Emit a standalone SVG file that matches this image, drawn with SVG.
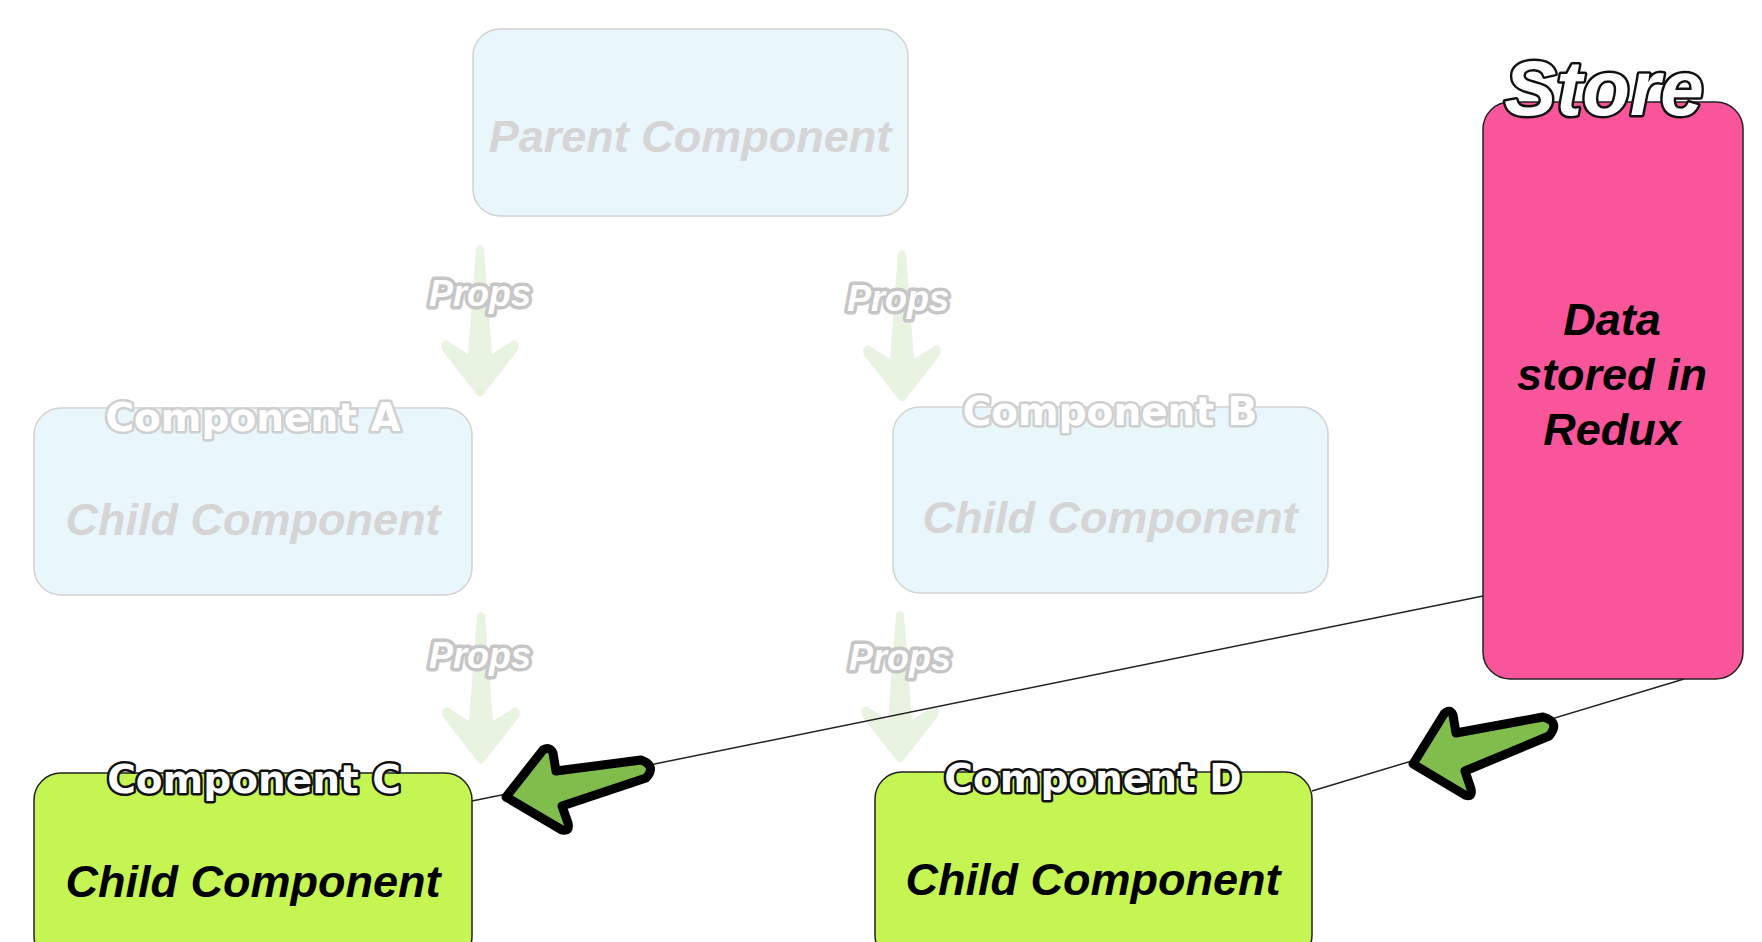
<svg xmlns="http://www.w3.org/2000/svg" width="1762" height="942" viewBox="0 0 1762 942">
<style>
.faded{fill:#E9F6FB;stroke:#d2d2d2;stroke-width:1.5}
.fadedtxt{font-family:"Liberation Sans",Arial,sans-serif;font-weight:bold;font-style:italic;font-size:45px;fill:#d5d5d5;text-anchor:middle}
.lime{fill:#C5F552;stroke:#222;stroke-width:1.5}
.darktxt{font-family:"Liberation Sans",Arial,sans-serif;font-weight:bold;font-style:italic;font-size:45px;fill:#000;text-anchor:middle}
.lblfade{font-family:"DejaVu Sans",sans-serif;font-weight:bold;font-size:39px;fill:#fff;stroke:#cfcfcf;stroke-width:5;paint-order:stroke;stroke-linejoin:round;text-anchor:middle}
.lbldark{font-family:"DejaVu Sans",sans-serif;font-weight:bold;font-size:39px;fill:#fff;stroke:#111;stroke-width:5;paint-order:stroke;stroke-linejoin:round;text-anchor:middle}
.props{font-family:"Liberation Sans",Arial,sans-serif;font-weight:bold;font-style:italic;font-size:36px;fill:#fff;stroke:#c6c6c6;stroke-width:7;paint-order:stroke;stroke-linejoin:round;text-anchor:middle}
.conn{stroke:#222;stroke-width:1.5;fill:none}
.garrow{fill:#80BD4C;stroke:#000;stroke-width:9;stroke-linejoin:round}
</style>
<defs>
<path id="propArrow" d="M -4,2 Q 0,-4 4,2 L 12,108 L 34,94 Q 41,96 38,104 L 3,149 Q 0,152 -3,149 L -38,104 Q -41,96 -34,94 L -12,108 Z" fill="#E8F4E1"/>
</defs>
<rect width="1762" height="942" fill="#fff"/>

<g id="connectors">
  <use href="#propArrow" transform="translate(480,246)"/>
  <use href="#propArrow" transform="translate(902,251)"/>
  <use href="#propArrow" transform="translate(481,613)"/>
  <use href="#propArrow" transform="translate(900,612)"/>
  <text class="props" x="480" y="306">Props</text>
  <text class="props" x="898" y="311">Props</text>
  <text class="props" x="480" y="668">Props</text>
  <text class="props" x="900" y="670">Props</text>
  <line class="conn" x1="1483" y1="596" x2="472" y2="801"/>
  <line class="conn" x1="1684" y1="679" x2="1312" y2="791"/>
  <path class="garrow" d="M 506,797 L 543,750 Q 550,746 553,753 L 556,771 L 641,760 Q 657,766 646,778 L 562,806 L 568,823 Q 570,832 562,830 Z"/>
  <path class="garrow" d="M 1413,764 L 1444,714 Q 1450,708 1453,715 L 1456,733 L 1543,717 Q 1561,722 1549,736 L 1465,771 L 1471,789 Q 1473,798 1465,795 Z"/>
</g>

<g id="parent">
  <rect class="faded" x="473" y="29" width="435" height="187" rx="27"/>
  <text class="fadedtxt" x="690" y="152">Parent Component</text>
</g>

<g id="componentA">
  <rect class="faded" x="34" y="408" width="438" height="187" rx="27"/>
  <text class="lblfade" x="253" y="431">Component A</text>
  <text class="fadedtxt" x="253" y="535">Child Component</text>
</g>

<g id="componentB">
  <rect class="faded" x="893" y="407" width="435" height="186" rx="27"/>
  <text class="lblfade" x="1110" y="425">Component B</text>
  <text class="fadedtxt" x="1110" y="533">Child Component</text>
</g>

<g id="componentC">
  <rect class="lime" x="34" y="773" width="438" height="190" rx="27"/>
  <text class="lbldark" x="254" y="793">Component C</text>
  <text class="darktxt" x="253" y="897">Child Component</text>
</g>

<g id="componentD">
  <rect class="lime" x="875" y="772" width="437" height="190" rx="27"/>
  <text class="lbldark" x="1093" y="792">Component D</text>
  <text class="darktxt" x="1093" y="895">Child Component</text>
</g>

<g id="store">
  <rect x="1483" y="102" width="260" height="577" rx="27" fill="#F9559A" stroke="#222" stroke-width="1.5"/>
  <text x="1604" y="115" font-family="Liberation Sans, Arial, sans-serif" font-weight="bold" font-style="italic" font-size="78" fill="#fff" stroke="#111" stroke-width="5" paint-order="stroke" stroke-linejoin="round" text-anchor="middle">Store</text>
  <text class="darktxt" font-size="42" x="1612" y="335">Data</text>
  <text class="darktxt" font-size="42" x="1612" y="390">stored in</text>
  <text class="darktxt" font-size="42" x="1612" y="445">Redux</text>
</g>
</svg>
